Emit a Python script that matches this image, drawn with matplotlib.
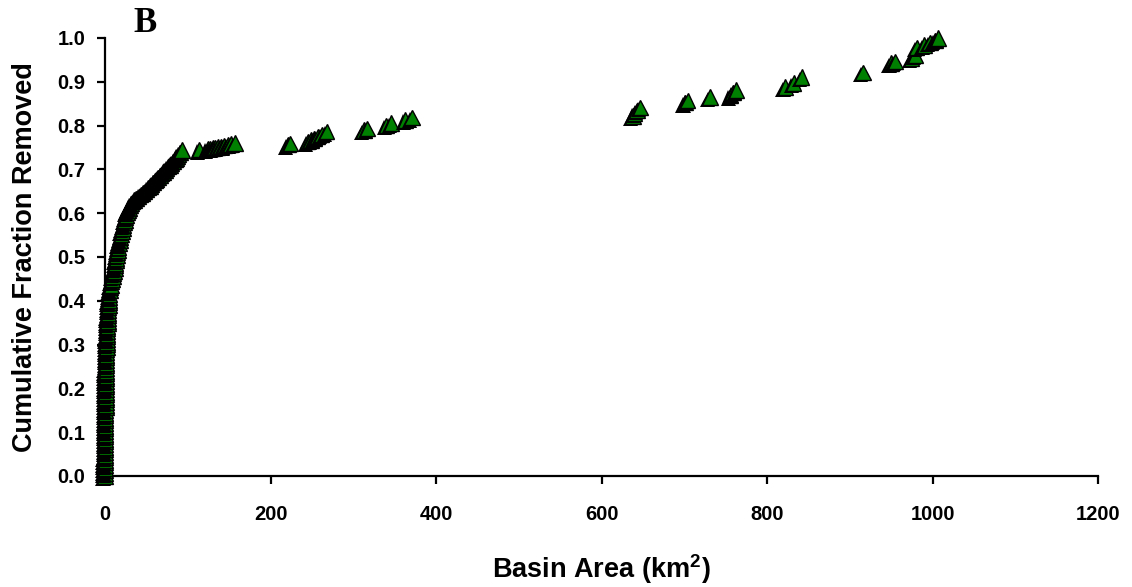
import matplotlib
matplotlib.use("Agg")
import matplotlib.pyplot as plt
import matplotlib.patheffects as pe

plt.rcParams["font.family"] = ["Liberation Sans", "DejaVu Sans"]
plt.rcParams["font.weight"] = "bold"
plt.rcParams["mathtext.fontset"] = "custom"
plt.rcParams["mathtext.rm"] = "Liberation Sans:bold"
plt.rcParams["mathtext.bf"] = "Liberation Sans:bold"

# dense part of the curve (small basins)
area_small = [
    0.1, 0.15, 0.2, 0.2, 0.25, 0.3, 0.3, 0.35, 0.4, 0.4,
    0.45, 0.5, 0.5, 0.55, 0.6, 0.6, 0.65, 0.7, 0.7, 0.75,
    0.8, 0.8, 0.85, 0.9, 0.9, 0.95, 1.0, 1.0, 1.05, 1.1,
    1.1, 1.15, 1.2, 1.2, 1.25, 1.3, 1.35, 1.4, 1.45, 1.5,
    1.5, 1.55, 1.6, 1.7, 1.75, 1.8, 1.9, 2.0, 2.1, 2.2,
    2.3, 2.4, 2.5, 2.6, 2.8, 2.9, 3.0, 3.2, 3.4, 3.5,
    3.7, 3.9, 4.1, 4.3, 4.5, 4.7, 4.9, 5.2, 5.5, 5.8,
    6.2, 6.8, 7.4, 8.2, 8.9, 9.6, 10.3, 11.2, 11.9, 12.5,
    13.0, 13.5, 14.0, 14.5, 15.0, 15.6, 16.3, 17.2, 18.0, 18.9,
    19.8, 20.8, 21.7, 22.6, 23.4, 24.2, 25.0, 25.8, 26.8, 27.8,
    29.0, 30.3, 31.8, 33.5, 35.5, 38.0, 40.5, 43.0, 45.5, 48.0,
    50.5, 52.5, 54.5, 56.5, 58.5, 60.5, 62.5, 64.5, 66.5, 68.5,
    70.5, 72.5, 74.5, 76.5, 78.5, 80.5, 82.5, 84.5, 86.0, 87.5,
    89.0, 90.5,
]
frac_small = [
    0.000, 0.006, 0.012, 0.018, 0.024, 0.030, 0.036, 0.042, 0.048, 0.054,
    0.060, 0.066, 0.072, 0.078, 0.084, 0.090, 0.096, 0.102, 0.108, 0.114,
    0.120, 0.126, 0.132, 0.138, 0.144, 0.150, 0.156, 0.162, 0.168, 0.174,
    0.180, 0.186, 0.192, 0.198, 0.204, 0.210, 0.216, 0.222, 0.228, 0.234,
    0.240, 0.246, 0.252, 0.258, 0.264, 0.270, 0.276, 0.282, 0.288, 0.294,
    0.300, 0.306, 0.312, 0.318, 0.324, 0.330, 0.336, 0.342, 0.348, 0.354,
    0.360, 0.366, 0.372, 0.378, 0.384, 0.390, 0.396, 0.402, 0.408, 0.414,
    0.423, 0.430, 0.436, 0.444, 0.450, 0.456, 0.462, 0.468, 0.474, 0.480,
    0.486, 0.492, 0.498, 0.504, 0.510, 0.516, 0.523, 0.530, 0.537, 0.544,
    0.551, 0.558, 0.565, 0.572, 0.578, 0.584, 0.590, 0.596, 0.602, 0.607,
    0.612, 0.617, 0.622, 0.626, 0.630, 0.634, 0.638, 0.642, 0.646, 0.650,
    0.654, 0.658, 0.662, 0.666, 0.670, 0.674, 0.678, 0.682, 0.686, 0.690,
    0.694, 0.698, 0.702, 0.706, 0.710, 0.714, 0.718, 0.722, 0.726, 0.730,
    0.734, 0.738,
]

# sparse part (large basins)
area_large = [
    93, 114, 124, 127, 130, 133, 136, 140, 144, 149, 152, 157,
    221, 224, 245, 249, 253, 257, 262, 268, 313, 317, 340, 346, 363, 371,
    638, 640, 643, 647, 701, 704, 731, 756, 759, 763, 822, 832, 842,
    916, 950, 955, 975, 979, 981, 990, 997, 1003, 1007,
]
frac_large = [
    0.744, 0.745, 0.747, 0.748, 0.749, 0.750, 0.751, 0.752, 0.754, 0.757, 0.758, 0.760,
    0.756, 0.759, 0.763, 0.767, 0.771, 0.775, 0.780, 0.786, 0.790, 0.793, 0.800, 0.806, 0.813, 0.818,
    0.822, 0.828, 0.835, 0.842, 0.852, 0.857, 0.865, 0.868, 0.875, 0.881, 0.888, 0.897, 0.911,
    0.922, 0.943, 0.947, 0.954, 0.961, 0.978, 0.984, 0.990, 0.995, 1.000,
]

area = area_small + area_large
frac = frac_small + frac_large

fig = plt.figure(figsize=(11.32, 5.87), dpi=100)
ax = fig.add_axes([0.0928, 0.1891, 0.8772, 0.7462])

# one marker at a time so every triangle gets its own drop shadow (Excel look)
shadow = [pe.SimplePatchShadow(offset=(-1.6, -1.6), shadow_rgbFace="black", alpha=1.0), pe.Normal()]
for x, y in zip(area, frac):
    ax.plot([x], [y], linestyle="none", marker="^", markersize=11, markerfacecolor="#008000",
            markeredgecolor="black", markeredgewidth=1.0, clip_on=False, zorder=3,
            path_effects=shadow)

ax.set_xlim(0, 1200)
ax.set_ylim(0, 1.0)
ax.set_xticks(range(0, 1201, 200))
ax.set_yticks([i / 10 for i in range(11)])
ax.set_yticklabels([f"{i / 10:.1f}" for i in range(11)])

for side in ("top", "right"):
    ax.spines[side].set_visible(False)
for side in ("left", "bottom"):
    ax.spines[side].set_linewidth(1.6)
ax.tick_params(axis="both", direction="out", length=6, width=1.6, labelsize=14.5)
ax.tick_params(axis="y", pad=8)
ax.tick_params(axis="x", pad=15)

ax.set_xlabel(r"Basin Area (km$^{2}$)", fontsize=19.5, fontweight="bold", labelpad=20)
ax.set_ylabel("Cumulative Fraction Removed", fontsize=19.5, fontweight="bold", labelpad=14)

fig.text(145 / 1132, 1 - 23 / 587, "B", fontsize=25, fontweight="bold",
         family=["Liberation Serif", "DejaVu Serif"], ha="center", va="center")

fig.savefig("out.png", dpi=100)
